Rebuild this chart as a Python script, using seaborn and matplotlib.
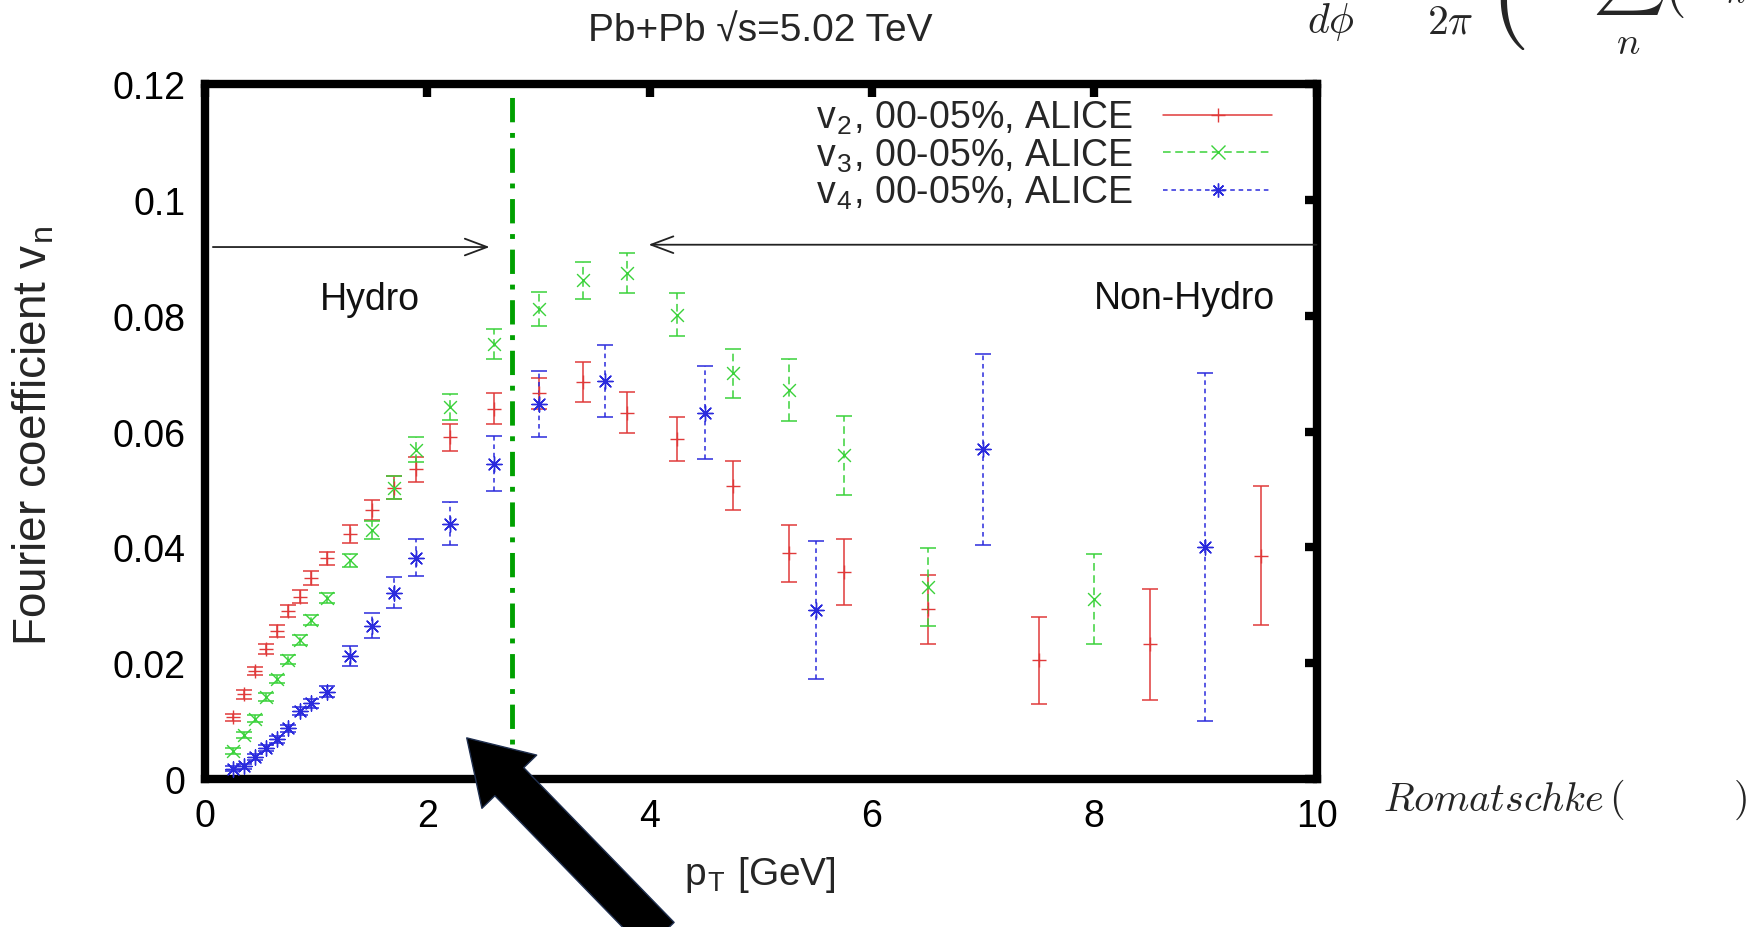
import numpy as np
import pandas as pd
import matplotlib
matplotlib.use("Agg")
import matplotlib.pyplot as plt
import seaborn as sns
from matplotlib.lines import Line2D
from matplotlib.patches import FancyArrowPatch

# ALICE Pb+Pb 5.02 TeV, 0-5% centrality
v2_pt = [0.25, 0.35, 0.45, 0.55, 0.65, 0.75, 0.85, 0.95, 1.1, 1.3, 1.5, 1.7, 1.9,
         2.2, 2.6, 3.0, 3.4, 3.8, 4.25, 4.75, 5.25, 5.75, 6.5, 7.5, 8.5, 9.5]
v2 = [0.0107, 0.0146, 0.0187, 0.0225, 0.0256, 0.0290, 0.0315, 0.0347, 0.0381, 0.0423,
      0.0465, 0.0503, 0.0535, 0.0590, 0.0640, 0.0666, 0.0686, 0.0633, 0.0588, 0.0507,
      0.0390, 0.0357, 0.0293, 0.0205, 0.0233, 0.0386]
v2_err = [0.0006, 0.0007, 0.0007, 0.0009, 0.0010, 0.0010, 0.0011, 0.0012, 0.0011, 0.0016,
          0.0017, 0.0020, 0.0022, 0.0023, 0.0027, 0.0027, 0.0034, 0.0036, 0.0038, 0.0042,
          0.0049, 0.0057, 0.0060, 0.0075, 0.0096, 0.0120]

v3_pt = [0.25, 0.35, 0.45, 0.55, 0.65, 0.75, 0.85, 0.95, 1.1, 1.3, 1.5, 1.7, 1.9,
         2.2, 2.6, 3.0, 3.4, 3.8, 4.25, 4.75, 5.25, 5.75, 6.5, 8.0]
v3 = [0.0049, 0.0076, 0.0104, 0.0141, 0.0173, 0.0206, 0.0240, 0.0275, 0.0313, 0.0378,
      0.0430, 0.0503, 0.0569, 0.0643, 0.0751, 0.0812, 0.0862, 0.0874, 0.0802, 0.0701,
      0.0672, 0.0559, 0.0332, 0.0311]
v3_err = [0.0005, 0.0006, 0.0006, 0.0007, 0.0007, 0.0008, 0.0008, 0.0009, 0.0009, 0.0011,
          0.0016, 0.0020, 0.0021, 0.0022, 0.0026, 0.0029, 0.0032, 0.0034, 0.0037, 0.0042,
          0.0054, 0.0068, 0.0067, 0.0077]

v4_pt = [0.25, 0.35, 0.45, 0.55, 0.65, 0.75, 0.85, 0.95, 1.1, 1.3, 1.5, 1.7, 1.9,
         2.2, 2.6, 3.0, 3.6, 4.5, 5.5, 7.0, 9.0]
v4 = [0.0018, 0.0022, 0.0038, 0.0053, 0.0069, 0.0088, 0.0117, 0.0131, 0.0151, 0.0212,
      0.0265, 0.0322, 0.0382, 0.0441, 0.0545, 0.0647, 0.0687, 0.0633, 0.0292, 0.0570,
      0.0401]
v4_err = [0.0004, 0.0004, 0.0005, 0.0005, 0.0006, 0.0006, 0.0007, 0.0008, 0.0009, 0.0017,
          0.0022, 0.0027, 0.0032, 0.0037, 0.0047, 0.0057, 0.0062, 0.0080, 0.0120, 0.0165,
          0.0300]

x_ticks = [0, 2, 4, 6, 8, 10]
y_ticks = [0, 0.02, 0.04, 0.06, 0.08, 0.10, 0.12]
y_tick_labels = ["0", "0.02", "0.04", "0.06", "0.08", "0.1", "0.12"]
hydro_cut = 2.76

df = pd.concat([
    pd.DataFrame({"pt": v2_pt, "vn": v2, "err": v2_err, "n": 2}),
    pd.DataFrame({"pt": v3_pt, "vn": v3, "err": v3_err, "n": 3}),
    pd.DataFrame({"pt": v4_pt, "vn": v4, "err": v4_err, "n": 4}),
])

sns.set_theme(style="white")
plt.rcParams["font.family"] = ["Liberation Sans", "DejaVu Sans"]
plt.rcParams["mathtext.fontset"] = "cm"

fig = plt.figure(figsize=(17.53, 9.28), dpi=100)
ax = fig.add_axes([0.117, 0.1595, 0.634, 0.7485])

# colour, marker, marker size, errorbar line style
styles = {
    2: ("#e03a3a", "+", 110, "-"),
    3: ("#3ad23a", "x", 85, (0, (5, 3))),
    4: ("#2b2bdd", (8, 2, 0), 120, (0, (3, 2.5))),
}

handles = []
for n, (col, mk, sz, ls) in styles.items():
    sub = df[df["n"] == n]
    eb = ax.errorbar(sub["pt"], sub["vn"], yerr=sub["err"], fmt="none", ecolor=col,
                     elinewidth=1.1, capsize=6, capthick=1.1, zorder=2)
    eb[2][0].set_linestyle(ls)
    sns.scatterplot(data=sub, x="pt", y="vn", marker=mk, s=sz, color=col,
                    linewidth=1.0, ax=ax, legend=False, zorder=3)
    handles.append(Line2D([0], [0], color=col, ls=ls, lw=1.1, marker=mk,
                          markersize=10, markeredgewidth=1.0,
                          label=r"v$_\mathregular{%d}$, 00-05%%, ALICE" % n))

# hydro / non-hydro boundary
ax.axvline(hydro_cut, color="#00a000", lw=3.5, ls=(0, (5, 2.2, 1, 2.2)), zorder=1)

ax.annotate("", xy=(2.56, 0.0919), xytext=(0.07, 0.0919),
            arrowprops=dict(arrowstyle="->,head_length=0.8,head_width=0.3",
                            color="#222222", lw=1.3, mutation_scale=20,
                            shrinkA=0, shrinkB=0))
ax.annotate("", xy=(3.99, 0.0923), xytext=(10.0, 0.0923),
            arrowprops=dict(arrowstyle="->,head_length=0.8,head_width=0.3",
                            color="#222222", lw=1.3, mutation_scale=20,
                            shrinkA=0, shrinkB=0))
ax.text(1.48, 0.0830, "Hydro", ha="center", va="center", fontsize=27, color="#111111")
ax.text(8.81, 0.0831, "Non-Hydro", ha="center", va="center", fontsize=27, color="#111111")

ax.legend(handles=handles, loc="upper right", bbox_to_anchor=(0.982, 1.014),
          frameon=False, markerfirst=False, fontsize=27, handlelength=2.9,
          handletextpad=0.8, labelspacing=0.0, borderpad=0.15)

ax.set_xlim(0, 10)
ax.set_ylim(0, 0.12)
ax.set_xticks(x_ticks)
ax.set_yticks(y_ticks)
ax.set_yticklabels(y_tick_labels)
ax.set_xlabel("")
ax.set_ylabel("")
ax.tick_params(direction="in", length=9, width=6, top=True, right=True,
               labelsize=27, pad=14, colors="black")
for sp in ax.spines.values():
    sp.set_linewidth(6)
    sp.set_color("black")

fig.text(0.4335, 0.966, "Pb+Pb √s=5.02 TeV", ha="center", va="center", fontsize=28)
fig.text(0.4335, 0.057, r"p$_\mathregular{T}$ [GeV]", ha="center", va="center", fontsize=28)
fig.text(0.019, 0.530, r"Fourier coefficient v$_\mathregular{n}$", ha="center",
         va="center", rotation=90, fontsize=33)

# big pointer arrow at the boundary
ax.add_patch(FancyArrowPatch((4.09, -0.0272), (2.354, 0.0071),
                             arrowstyle="simple,head_length=44,head_width=55,tail_width=29",
                             mutation_scale=1, facecolor="black", edgecolor="#1f2f4f",
                             lw=1, shrinkA=0, shrinkB=0, clip_on=False, zorder=5))

# slide fragments around the plot
fig.text(0.789, 0.138, r"$Romatschke$", ha="left", va="center", fontsize=29)
fig.text(0.922, 0.138, r"$($", ha="center", va="center", fontsize=29)
fig.text(0.9926, 0.138, r"$)$", ha="center", va="center", fontsize=29)
fig.text(0.759, 0.976, r"$d\phi$", ha="center", va="center", fontsize=30)
fig.text(0.827, 0.976, r"$2\pi$", ha="center", va="center", fontsize=30)
fig.text(0.860, 1.0, r"$($", ha="center", va="center", fontsize=72)
fig.text(0.929, 0.982, r"$\sum$", ha="center", va="bottom", fontsize=36)
fig.text(0.929, 0.953, r"$n$", ha="center", va="center", fontsize=28)
fig.text(0.955, 1.011, r"$($", ha="center", va="center", fontsize=40)
fig.text(0.990, 1.006, r"$n$", ha="center", va="center", fontsize=24)

fig.savefig("out.png", dpi=100)
